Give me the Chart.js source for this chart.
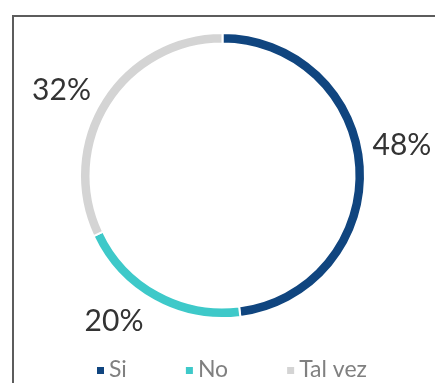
<!DOCTYPE html>
<html>
<head>
<meta charset="utf-8">
<script src="https://cdn.jsdelivr.net/npm/chart.js@4.4.0/dist/chart.umd.min.js"></script>
<style>
  html, body { margin: 0; padding: 0; background: #fff; overflow: hidden; }
  #wrap { position: relative; width: 435px; height: 383px; }
  #frame {
    position: absolute; left: 12px; top: 15px; width: 440px; height: 400px;
    border: 2px solid #5c5c5c; box-sizing: border-box;
  }
  canvas { position: absolute; left: 0; top: 0; }
</style>
</head>
<body>
<div id="wrap">
  <div id="frame"></div>
  <canvas id="pie" width="435" height="383"></canvas>
</div>
<script>
// données du graphique
const categories = ['Si', 'No', 'Tal vez'];
const values = [48, 20, 32];
const percentLabels = ['48%', '20%', '32%'];
const colors = ['#10457f', '#3ec9c9', '#d4d4d4'];

// petit décalage angulaire des étiquettes (en degrés), comme dans l'original
const labelNudge = [-5.9, 7.8, -4.6];

// étiquettes en pourcentage autour de l'anneau
const percentPlugin = {
  id: 'percentLabels',
  afterDatasetsDraw(chart) {
    const ctx = chart.ctx;
    const arcs = chart.getDatasetMeta(0).data;
    ctx.save();
    ctx.font = '30px Lato';
    ctx.fillStyle = '#333333';
    ctx.textAlign = 'center';
    ctx.textBaseline = 'middle';
    arcs.forEach((arc, i) => {
      const p = arc.getProps(['x', 'y', 'startAngle', 'endAngle', 'outerRadius'], true);
      const mid = (p.startAngle + p.endAngle) / 2 + labelNudge[i] * Math.PI / 180;
      const r = p.outerRadius * 1.277;
      ctx.fillText(percentLabels[i], p.x + Math.cos(mid) * r, p.y + Math.sin(mid) * r);
    });
    ctx.restore();
  }
};

// légende dessinée à la main (petits carrés + texte gris)
const legendPlugin = {
  id: 'miniLegend',
  afterDraw(chart) {
    const ctx = chart.ctx;
    ctx.save();
    ctx.font = '23px Lato';
    ctx.textBaseline = 'middle';
    let x = 97;
    const y = 370;
    categories.forEach((cat, i) => {
      ctx.fillStyle = colors[i];
      ctx.fillRect(x, y - 3, 7, 7);
      x += 7 + 5;
      ctx.fillStyle = '#808080';
      ctx.fillText(cat, x, y);
      x += ctx.measureText(cat).width + 59;
    });
    ctx.restore();
  }
};

new Chart(document.getElementById('pie'), {
  type: 'doughnut',
  data: {
    labels: categories,
    datasets: [{
      data: values,
      backgroundColor: colors,
      borderColor: '#ffffff',
      borderWidth: 2,
      hoverOffset: 0
    }]
  },
  options: {
    responsive: false,
    animation: false,
    cutout: 132,
    layout: { padding: { left: 79, top: 32, right: 69, bottom: 64 } },
    plugins: {
      legend: { display: false },
      tooltip: { enabled: false }
    }
  },
  plugins: [percentPlugin, legendPlugin]
});
</script>
</body>
</html>
